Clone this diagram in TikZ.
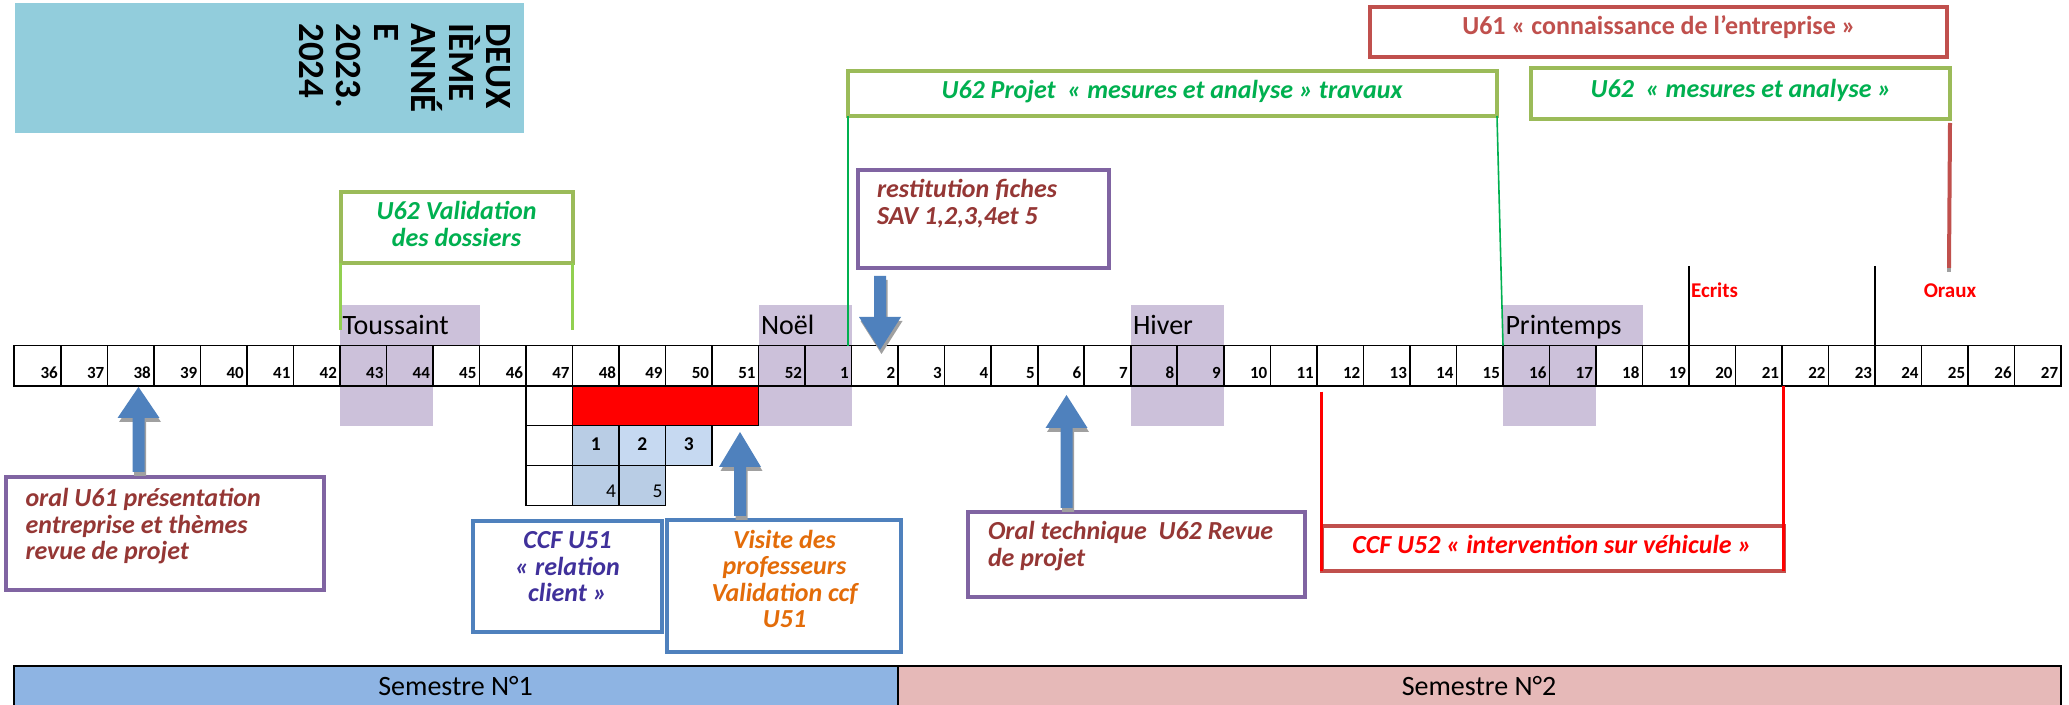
\documentclass[tikz,border=0pt]{standalone}
\usepackage{fontspec}
\setmainfont{Carlito}
\usetikzlibrary{fit}
\definecolor{titleblue}{HTML}{92CDDC}
\definecolor{lav}{HTML}{CCC1DA}
\definecolor{u61red}{HTML}{C0504D}
\definecolor{ogreen}{HTML}{9BBB59}
\definecolor{tgreen}{HTML}{00B050}
\definecolor{lgreen}{HTML}{92D050}
\definecolor{purp}{HTML}{8064A2}
\definecolor{dred}{HTML}{953735}
\definecolor{oblue}{HTML}{4F81BD}
\definecolor{indigoT}{RGB}{64,49,155}
\definecolor{orng}{HTML}{E36C09}
\definecolor{cellA}{HTML}{B9CDE5}
\definecolor{cellB}{HTML}{C6D9F1}
\definecolor{semA}{HTML}{8EB4E3}
\definecolor{semB}{HTML}{E6B9B8}
\definecolor{shadowgrey}{HTML}{A0A0A0}
\newcommand\ctext[1]{\vtop{\baselineskip=13.25pt\lineskiplimit=-\maxdimen\halign{\hfil##\hfil\cr#1\crcr}}}
\newcommand\ltext[1]{\vtop{\baselineskip=13.25pt\lineskiplimit=-\maxdimen\halign{##\hfil\cr#1\crcr}}}
\newcommand\uparr[4]{%
 \fill[shadowgrey, xshift=0.75pt, yshift=-2pt] (#1,#2) -- (#1+21,#3) -- (#1+6,#3) -- (#1+6,#4) -- (#1-6,#4) -- (#1-6,#3) -- (#1-21,#3) -- cycle;
 \fill[oblue] (#1,#2) -- (#1+21,#3) -- (#1+6,#3) -- (#1+6,#4) -- (#1-6,#4) -- (#1-6,#3) -- (#1-21,#3) -- cycle;}
\newcommand\downarr[4]{%
 \fill[shadowgrey, xshift=0.75pt, yshift=-2pt] (#1-6,#2) -- (#1+6,#2) -- (#1+6,#3) -- (#1+21,#3) -- (#1,#4) -- (#1-21,#3) -- (#1-6,#3) -- cycle;
 \fill[oblue] (#1-6,#2) -- (#1+6,#2) -- (#1+6,#3) -- (#1+21,#3) -- (#1,#4) -- (#1-21,#3) -- (#1-6,#3) -- cycle;}
\begin{document}
\begin{tikzpicture}[x=0.5pt,y=-0.5pt,
  bx/.style={draw, line width=2pt, fill=white, inner sep=0pt, outer sep=0pt},
  lbl/.style={inner sep=0pt, outer sep=0pt, anchor=base},
  lblw/.style={inner sep=0pt, outer sep=0pt, anchor=base west},
  lble/.style={inner sep=0pt, outer sep=0pt, anchor=base east},
  bi/.style={font=\bfseries\itshape\fontsize{13}{13.25}\selectfont},
  tline/.style={draw=black, line width=0.8pt},
  vac/.style={font=\fontsize{14}{14}\selectfont},
]
\useasboundingbox (0,0) rectangle (2069,705);
\fill[white] (0,0) rectangle (2069,705);

% title block
\node[fill=titleblue, inner sep=0pt, outer sep=0pt, fit={(15,3)(524,133)}] (title) {};
\foreach \s/\x [count=\k] in {DEUX/486.6, IÈME/449, ANNÉ/411.5, E/374, 2023./336.5, 2024/299}
  \node[rotate=-90, anchor=base west, inner sep=0pt, font=\bfseries\fontsize{18.5}{18.5}\selectfont] (t\k) at (\x,23) {\s};

% holiday shading
\fill[lav] (339.9,305) rectangle (479.5,345.7);
\fill[lav] (339.9,345.7) rectangle (433,425.7);
\fill[lav] (758.6,305) rectangle (851.6,425.7);
\fill[lav] (1130.7,305) rectangle (1223.8,425.7);
\fill[lav] (1502.9,305) rectangle (1642.5,345.7);
\fill[lav] (1502.9,345.7) rectangle (1595.9,425.7);
\node[lblw, vac] (tous) at (342.5,335) {Toussaint};
\node[lblw, vac] (noel) at (761,335) {Noël};
\node[lblw, vac] (hiver) at (1133,335) {Hiver};
\node[lblw, vac] (print) at (1505.5,335) {Printemps};

% timeline
\node[tline, inner sep=0pt, outer sep=0pt, fit={(14.26,345.7)(2061.1,386)}] (tl) {};
\foreach \i in {1,...,43}
  \draw[tline] ({14.26+46.52*\i},345.7) -- ({14.26+46.52*\i},386);
\foreach \n in {36,...,52}
  \node[lble, font=\bfseries\fontsize{8.5}{10}\selectfont] (wa\n) at ({14.26+46.52*(\n-35)-3},379) {\n};
\foreach \n in {1,...,27}
  \node[lble, font=\bfseries\fontsize{8.5}{10}\selectfont] (wb\n) at ({14.26+46.52*(\n+17)-3},379) {\n};

% exam markers
\coordinate (ecr) at (1689,266);
\coordinate (ora) at (1875,266);
\draw[line width=0.8pt] (ecr) -- (ecr |- tl.north);
\draw[line width=0.8pt] (ora) -- (ora |- tl.north);
\node[lblw, text=red, font=\bfseries\fontsize{10.5}{10.5}\selectfont] (ecrt) at (1691,298) {Ecrits};
\node[lbl, text=red, font=\bfseries\fontsize{10.5}{10.5}\selectfont] (orat) at (1950,298) {Oraux};

% top boxes
\node[bx, draw=u61red, fit={(1370,7)(1947,57)}] (u61) {};
\node[lbl, text=u61red, font=\bfseries\fontsize{13}{13}\selectfont] (u61t) at (1659,35) {U61 « connaissance de l’entreprise »};
\node[bx, draw=ogreen, fit={(848,71)(1497,116)}] (u62p) {};
\node[lbl, bi, text=tgreen] (u62pt) at (1172,99) {U62 Projet~ « mesures et analyse » travaux};
\node[bx, draw=ogreen, fit={(1531,68)(1950,119)}] (u62m) {};
\node[lbl, bi, text=tgreen] (u62mt) at (1741,98) {U62~ « mesures et analyse »};
\node[bx, draw=ogreen, fit={(340.5,192)(572.5,263)}] (val) {};
\node[lbl, bi, text=tgreen] (valt) at (456.5,220) {\ctext{U62 Validation\cr des dossiers}};
\node[bx, draw=purp, fit={(858,170)(1109,268)}] (rest) {};
\node[lblw, bi, text=dred] (restt) at (877,198) {\ltext{restitution fiches\cr SAV 1,2,3,4et 5}};

% connectors from top boxes
\coordinate (gv1) at (340.5,330);
\coordinate (gv2) at (572.5,330);
\draw[lgreen, line width=1.3pt] (val.south west) -- (gv1);
\draw[lgreen, line width=1.3pt] (val.south east) -- (gv2);
\coordinate (gp2) at (1503,345.7);
\draw[tgreen, line width=0.8pt] (u62p.south west) -- (u62p.south west |- tl.north);
\draw[tgreen, line width=0.8pt] (u62p.south east) -- (gp2);
\coordinate (r1) at (1949,268);
\coordinate (r2) at (1949,272);
\draw[u61red, line width=2pt] ([yshift=-2pt]u62m.south east) -- (r1);
\draw[shadowgrey, line width=2pt] (r1) -- (r2);

% grid below timeline
\draw[tline] (526,386) rectangle (572.5,425.7);
\draw[tline, fill=red] (572.5,386) rectangle (758.6,425.7);
\draw[tline] (526,425.7) rectangle (572.5,465.7);
\draw[tline, fill=cellA] (572.5,425.7) rectangle (619,465.7);
\draw[tline, fill=cellB] (619,425.7) rectangle (665.5,465.7);
\draw[tline, fill=cellB] (665.5,425.7) rectangle (712,465.7);
\draw[tline] (526,465.7) rectangle (572.5,505.7);
\draw[tline, fill=cellA] (572.5,465.7) rectangle (619,505.7);
\draw[tline, fill=cellA] (619,465.7) rectangle (665.5,505.7);
\node[lbl, font=\bfseries\fontsize{9.75}{10}\selectfont] (g1) at (595.8,451) {1};
\node[lbl, font=\bfseries\fontsize{9.75}{10}\selectfont] (g2) at (642.3,451) {2};
\node[lbl, font=\bfseries\fontsize{9.75}{10}\selectfont] (g3) at (688.8,451) {3};
\node[lble, font=\fontsize{9.75}{10}\selectfont] (g4) at (616,498) {4};
\node[lble, font=\fontsize{9.75}{10}\selectfont] (g5) at (662.5,498) {5};

% bottom boxes
\node[bx, draw=purp, fit={(6,477)(324,590)}] (oral1) {};
\node[lblw, bi, text=dred] (oral1t) at (25.5,506.7) {\ltext{oral U61 présentation\cr entreprise et thèmes\cr revue de projet}};
\node[bx, draw=oblue, fit={(473,521)(662,632)}] (ccf51) {};
\node[lbl, bi, text=indigoT] (ccf51t) at (567.5,549) {\ctext{CCF U51\cr « relation\cr client »}};
\node[bx, draw=oblue, fit={(667,520)(901,652)}] (visite) {};
\node[lbl, bi, text=orng] (visitet) at (784.5,548.3) {\ctext{Visite des\cr professeurs\cr Validation ccf\cr U51}};
\node[bx, draw=purp, fit={(968,512)(1305,597)}] (oraltech) {};
\node[lblw, bi, text=dred] (oraltecht) at (988,540) {\ltext{Oral technique~ U62 Revue\cr de projet}};

% CCF U52 bracket
\node[bx, draw=u61red, fit={(1321.5,526)(1783.5,571)}] (ccf52) {};
\node[lbl, bi, text=red] (ccf52t) at (1552,554) {CCF U52 « intervention sur véhicule »};
\coordinate (c52a) at (1321.5,391.7);
\draw[red, line width=1.5pt] (c52a) -- (ccf52.south west);
\draw[red, line width=1.5pt] (ccf52.south east |- tl.south) -- (ccf52.south east);

% block arrows
\uparr{138.5}{387}{418}{472}
\downarr{880}{276}{317}{350}
\uparr{740}{432}{467}{516}
\uparr{1066.5}{395}{428}{508}

% semesters
\node[draw, line width=1pt, fill=semA, inner sep=0pt, outer sep=0pt, fit={(14,666)(897.7,706)}] (s1) {};
\node[draw, line width=1pt, fill=semB, inner sep=0pt, outer sep=0pt, fit={(897.7,666)(2061,706)}] (s2) {};
\node[lbl, vac] (s1t) at (455.6,695.7) {Semestre N°1};
\node[lbl, vac] (s2t) at (1479,695.7) {Semestre N°2};
\end{tikzpicture}
\end{document}
